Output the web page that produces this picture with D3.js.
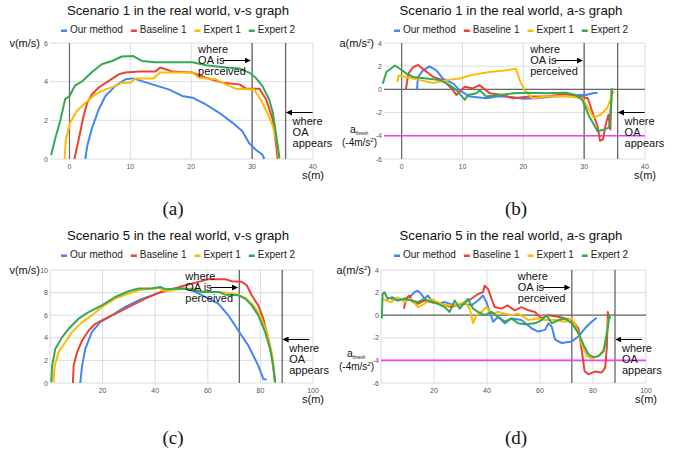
<!DOCTYPE html>
<html>
<head>
<meta charset="utf-8">
<script src="https://cdn.jsdelivr.net/npm/d3@7"></script>
<style>
  body { margin: 0; background: #fff; }
  svg { display: block; font-family: Arial, "Liberation Sans", sans-serif; }
</style>
</head>
<body>
<svg id="chart" width="682" height="452"></svg>
<script>
const seriesNames = ["Our method", "Baseline 1", "Expert 1", "Expert 2"];
const seriesColors = ["#4285f4", "#ea4335", "#fbbc04", "#34a853"];

// Scenario 1, v-s
const s1vOurs = [[2.6,0],[2.9,0.66],[3.7,1.6],[4.8,2.56],[5.9,3.26],[7.5,3.77],[9.2,4.12],[10.5,4.17],[11.9,4.03],[13.6,3.86],[16.3,3.6],[18.5,3.26],[20.2,3.17],[22.4,2.82],[24.6,2.39],[26.8,1.87],[28.4,1.44],[29.5,0.83],[30.6,0.48],[31.7,0.22],[32,0]];
const s1vBase = [[0.8,0],[1.5,1.0],[2.3,2.2],[2.9,2.9],[3.7,3.35],[4.8,3.7],[6.4,4.03],[8.1,4.38],[9.2,4.47],[11.4,4.52],[14.1,4.52],[14.9,4.73],[15.8,4.64],[16.9,4.52],[20.2,4.47],[22.4,4.2],[25.1,3.95],[27.9,3.86],[29,3.64],[31.2,3.64],[32.3,3.08],[33.4,2.04],[33.9,0.83],[34.2,0]];
const s1vExp1 = [[-0.8,0],[-0.6,1.0],[0.1,1.87],[1.2,2.48],[2.6,2.9],[4.2,3.34],[5.9,3.6],[7.5,3.77],[8.6,3.95],[10,3.95],[10.8,4.17],[13.8,4.17],[14.9,4.47],[20.2,4.47],[21.3,4.2],[24,4.12],[25.7,3.86],[27.3,3.64],[30.3,3.6],[31.4,3.08],[32.5,2.39],[33.4,1.7],[34.1,0.83],[34.4,0]];
const s1vExp2 = [[-3,0.2],[-2.4,1.0],[-1.5,2.0],[-0.7,3.1],[0,3.25],[0.9,3.8],[2,4.0],[3.7,4.5],[5.3,4.9],[7,5.07],[8.6,5.3],[10.4,5.33],[11.9,5.07],[14.1,5.0],[20.2,5.0],[22.4,4.85],[25.7,4.73],[27.9,4.68],[29.5,4.47],[30.6,4.2],[31.7,3.77],[32.8,3.08],[33.4,2.4],[33.9,1.35],[34.5,0.05]];

// Scenario 1, a-s
const s1aOurs = [[2.5,-0.06],[2.7,1.07],[3.5,1.64],[4.6,1.98],[5.7,1.64],[6.8,0.93],[8.5,0.5],[9.5,-0.06],[11.2,-0.62],[13.9,-0.76],[16,-0.6],[18.3,-0.68],[20,-0.8],[22.1,-0.76],[24,-0.65],[25.9,-0.56],[27.5,-0.6],[29.2,-0.48],[30.3,-0.48],[31.4,-0.34],[32.2,-0.28]];
const s1aBase = [[0.7,0],[1.1,1.36],[1.9,1.92],[2.7,2.1],[3.8,1.64],[5.2,1.07],[6.8,0.8],[8.2,0.08],[9,-0.48],[10.4,0.23],[11.7,0.08],[12.8,0.37],[14.5,-0.34],[16.6,-0.48],[18.3,-0.76],[21,-0.62],[23.7,-0.62],[27,-0.4],[29.2,-0.62],[30.6,-0.76],[31.4,-2.03],[32.2,-3.16],[32.6,-4.43],[33.1,-4.3],[33.6,-2.88],[34,-2.18],[34.3,-3.45],[34.5,-0.06]];
const s1aExp1 = [[-0.7,0.65],[-0.5,1.2],[0.8,1.07],[3,0.8],[5.2,0.56],[7.4,0.8],[9.5,0.93],[11.2,1.2],[12.8,1.36],[14.5,1.5],[17.2,1.64],[18.8,1.78],[19.4,0.8],[20.2,-0.06],[21.5,-0.76],[23.7,-0.62],[27,-0.56],[29.7,-0.76],[30.8,-1.75],[31.6,-2.46],[32.7,-2.18],[33.8,-1.6],[34.4,-0.76],[34.6,-0.2],[35,-0.28]];
const s1aExp2 = [[-3.1,0.5],[-2.5,1.5],[-1.1,2.06],[-0.3,1.78],[0.8,1.36],[1.9,1.07],[4.1,0.93],[6.3,0.8],[7.9,0.37],[9,-0.06],[10.4,-0.9],[10.9,-0.48],[12.3,-0.34],[12.8,-0.06],[13.9,-0.62],[16.1,-0.48],[18.3,-0.34],[21,-0.28],[23.7,-0.34],[27,-0.28],[28.6,-0.48],[29.7,-0.9],[30.8,-2.3],[32.2,-3.6],[33.3,-3.45],[34.1,-3.3],[34.4,-1.47],[34.6,0.1]];

// Scenario 5, v-s
const s5vOurs = [[11.5,0],[12.2,1.54],[13.4,3.02],[15.9,4.5],[19.1,5.39],[23.5,5.99],[28.6,6.73],[33.7,7.32],[38.7,7.76],[43.8,8.21],[47.6,8.36],[51.4,8.36],[55.2,8.06],[60.3,7.47],[64,7.02],[67.8,5.99],[71.6,4.65],[75.4,3.32],[79.2,1.54],[81.1,0.36],[82.4,0.3]];
const s5vBase = [[8.7,0],[9,1.54],[10.3,2.73],[12.2,3.76],[14.7,4.65],[17.2,5.24],[21,5.69],[26.1,6.28],[31.1,6.87],[36.2,7.47],[41.3,7.97],[46.3,8.27],[51.4,8.65],[56.5,8.95],[60.3,9.19],[66.6,9.19],[69.1,9.0],[72.9,8.95],[74.8,8.65],[76.7,7.76],[79.2,6.87],[81.1,5.69],[83,3.91],[84.3,2.43],[85.6,0.06]];
const s5vExp1 = [[1.3,0.06],[1.8,1.54],[3.3,2.73],[5.8,3.61],[8.4,4.5],[12.2,5.39],[15.9,5.99],[19.7,6.73],[24.8,7.47],[29.9,7.91],[33.7,8.21],[38.7,8.36],[41.3,8.41],[43.8,8.12],[48.9,8.3],[53.9,8.36],[57.7,8.12],[66.6,8.0],[71.6,7.82],[74.8,7.47],[77.3,6.87],[79.9,5.99],[82.4,4.5],[84.3,2.73],[85.6,0.06]];
const s5vExp2 = [[0.5,0.06],[0.8,1.54],[2,3.0],[4.6,4.06],[7.1,4.8],[10.9,5.69],[14.7,6.28],[19.7,6.87],[24.8,7.61],[29.9,8.12],[33.7,8.36],[38.7,8.36],[41.9,8.5],[43.8,8.3],[48.9,8.36],[53.9,8.27],[57.7,8.06],[64,8.06],[66.6,7.82],[71.6,7.76],[74.2,7.47],[76.7,6.87],[79.2,5.99],[81.8,4.5],[83.7,3.02],[84.9,1.54],[85.6,0.06]];

// Scenario 5, a-s
const s5aOurs = [[3.8,1.45],[6.3,1.3],[8.8,1.45],[11.4,1.74],[12.6,2.03],[13.9,2.17],[15.2,1.88],[16.4,1.45],[17.7,1.74],[19.6,1.16],[21.5,1.01],[24,1.16],[27.8,0.87],[31.6,1.01],[34.1,0.87],[36.6,1.3],[38.5,1.74],[39.8,1.16],[41,0.29],[42.3,-0.58],[44.2,-0.14],[46.7,-0.72],[49.2,-0.29],[53,-0.43],[56.8,-1.16],[59.3,-1.45],[61.9,-1.3],[63.1,-0.72],[64.4,-1.01],[65.7,-2.17],[68.2,-2.46],[72,-2.32],[74.5,-1.88],[77,-1.16],[79.5,-0.58],[81.4,-0.23]];
const s5aBase = [[8.6,0.58],[9.5,1.45],[10.7,1.74],[12,1.16],[13.9,1.01],[16.4,1.3],[18.9,1.16],[22.7,1.01],[26.5,0.72],[30.3,1.01],[34.1,1.45],[36.6,1.88],[38.5,2.03],[39.1,2.61],[40.4,2.32],[41.7,1.45],[42.9,0.72],[45.5,0.58],[47.7,0.87],[50.5,0.43],[53,0.72],[55.6,0.43],[58.1,0.29],[60.6,-0.29],[63.1,0],[66.9,-0.14],[69.4,-0.29],[72,-0.43],[74.5,-1.16],[75.8,-3.19],[76.8,-4.93],[78.3,-5.22],[80.8,-4.99],[83.3,-5.07],[84.6,-4.64],[85.2,-2.9],[85.6,0.29],[85.9,0]];
const s5aExp1 = [[0.6,1.45],[1.9,1.3],[3.8,1.16],[6.3,1.59],[8.8,1.16],[11.4,1.45],[13.9,0.72],[16.4,1.01],[18.9,1.45],[21.5,1.16],[24,0.87],[27.8,0.87],[31.6,1.16],[33.5,0.58],[34.7,-0.72],[36,0],[37.9,0.29],[39.8,0.72],[41.7,0.14],[44.2,0.29],[46.7,0.14],[49.2,0],[51.8,0.14],[55.6,-0.43],[59.3,-0.29],[61.9,-0.43],[65.7,-0.43],[69.4,-0.58],[72,-0.29],[73.9,-1.16],[75.8,-2.61],[77.7,-3.62],[79.5,-3.83],[82.1,-3.62],[84,-3.04],[85.2,-1.45],[85.9,-0.29]];
const s5aExp2 = [[0.3,-0.29],[0.6,1.88],[1.3,2.03],[2.5,1.45],[4.4,1.59],[6.3,1.3],[8.8,1.45],[11.4,1.3],[13.9,1.16],[16.4,1.45],[18.9,1.16],[21.5,1.01],[24,0.72],[25.9,0.29],[27.8,1.3],[29.7,0.58],[32.8,1.45],[34.7,0.58],[36.6,0.29],[39.1,0],[41.7,0.29],[44.2,-0.14],[46.7,-0.58],[49.2,-0.29],[51.8,-0.72],[54.3,-0.81],[58.1,-0.72],[60.6,-0.43],[62.5,0],[64.4,-0.72],[66.9,-0.43],[69.4,-0.29],[72,-0.72],[74.5,-1.59],[76.4,-2.61],[78.3,-3.48],[80.2,-3.71],[82.1,-3.62],[84,-3.19],[85.2,-1.74],[85.9,-0.58],[86.1,0],[86.5,-0.29]];

const s1XTicks = [0, 10, 20, 30, 40];
const s5XTicks = [20, 40, 60, 80, 100];
const vTicks1 = [0, 2, 4, 6];
const vTicks5 = [0, 2, 4, 6, 8, 10];
const aTicks = [-6, -4, -2, 0, 2, 4];
const aThresh = -4;
const perceivedS1 = 30, appearsS1 = 35.5;
const perceivedS5 = 72, appearsS5 = 88.3;

const svg = d3.select("#chart");

svg.append("defs").append("marker")
    .attr("id", "arrow")
    .attr("viewBox", "0 0 10 10")
    .attr("refX", 9).attr("refY", 5)
    .attr("markerWidth", 6).attr("markerHeight", 6)
    .attr("markerUnits", "userSpaceOnUse")
    .attr("orient", "auto")
    .append("path").attr("d", "M0,0L10,5L0,10z").attr("fill", "#000");

function drawPanel(p) {
    const g = svg.append("g");
    const x = d3.scaleLinear().domain(p.xDomain).range([p.left, p.right]);
    const y = d3.scaleLinear().domain(p.yDomain).range([p.bottom, p.top]);

    // grid
    g.selectAll(".vg").data(p.xGrid).join("line")
        .attr("x1", d => x(d)).attr("x2", d => x(d))
        .attr("y1", p.top).attr("y2", p.bottom)
        .attr("stroke", "#dcdcdc").attr("stroke-width", 1);
    g.selectAll(".hg").data(p.yTicks).join("line")
        .attr("x1", p.left).attr("x2", p.right)
        .attr("y1", d => y(d)).attr("y2", d => y(d))
        .attr("stroke", "#dcdcdc").attr("stroke-width", 1);

    // tick labels
    g.selectAll(".xt").data(p.xTicks).join("text")
        .attr("x", d => x(d)).attr("y", p.bottom + 9.5)
        .attr("text-anchor", "middle").attr("font-size", 7).attr("fill", "#555")
        .text(d => d);
    g.selectAll(".yt").data(p.yTicks).join("text")
        .attr("x", p.left - 2).attr("y", d => y(d) + 2.5)
        .attr("text-anchor", "end").attr("font-size", 7).attr("fill", "#555")
        .text(d => d);

    // dark baselines
    if (p.zeroX) {
        g.append("line").attr("x1", x(0)).attr("x2", x(0))
            .attr("y1", p.top).attr("y2", p.bottom)
            .attr("stroke", "#666").attr("stroke-width", 1.2);
    }
    if (p.zeroY) {
        g.append("line").attr("x1", p.left).attr("x2", p.right)
            .attr("y1", y(0)).attr("y2", y(0))
            .attr("stroke", "#666").attr("stroke-width", 1.2);
    }

    // event lines
    [p.perceived, p.appears].forEach(s => {
        g.append("line").attr("x1", x(s)).attr("x2", x(s))
            .attr("y1", p.top).attr("y2", p.bottom)
            .attr("stroke", "#666").attr("stroke-width", 1.3);
    });

    if (p.thresh !== undefined) {
        g.append("line").attr("x1", p.left).attr("x2", p.right)
            .attr("y1", y(p.thresh)).attr("y2", y(p.thresh))
            .attr("stroke", "#f23ef2").attr("stroke-width", 1.6);
        const t = g.append("text").attr("x", p.left - 34).attr("y", y(p.thresh) - 3)
            .attr("font-size", 10.5).attr("fill", "#111");
        t.append("tspan").text("a");
        t.append("tspan").attr("font-size", 4.5).attr("dy", 2).text("thresh");
        const t2 = g.append("text").attr("x", p.left - 42).attr("y", y(p.thresh) + 10)
            .attr("font-size", 10).attr("fill", "#111");
        t2.append("tspan").text("(-4m/s");
        t2.append("tspan").attr("font-size", 6).attr("dy", -4).text("2");
        t2.append("tspan").attr("dy", 4).text(")");
    }

    // data lines
    const line = d3.line().x(d => x(d[0])).y(d => y(d[1]));
    p.series.forEach((s, i) => {
        g.append("path").datum(s)
            .attr("fill", "none").attr("stroke", seriesColors[i])
            .attr("stroke-width", 2).attr("stroke-linejoin", "round")
            .attr("d", line);
    });

    // annotations
    const px = x(p.perceived);
    const ann = g.append("text").attr("font-size", 11).attr("fill", "#111");
    ["where", "OA is", "perceived"].forEach((s, i) => {
        ann.append("tspan").attr("x", px - 54).attr("y", p.top + 9.5 + i * 11).text(s);
    });
    g.append("line").attr("x1", px - 29).attr("x2", px - 2)
        .attr("y1", p.top + 17.5).attr("y2", p.top + 17.5)
        .attr("stroke", "#000").attr("stroke-width", 1).attr("marker-end", "url(#arrow)");

    const ax = x(p.appears);
    const ann2 = g.append("text").attr("font-size", 11).attr("fill", "#111");
    ["where", "OA", "appears"].forEach((s, i) => {
        ann2.append("tspan").attr("x", ax + 7).attr("y", p.top + 82 + i * 11).text(s);
    });
    g.append("line").attr("x1", ax + 27).attr("x2", ax + 1)
        .attr("y1", p.top + 69.5).attr("y2", p.top + 69.5)
        .attr("stroke", "#000").attr("stroke-width", 1).attr("marker-end", "url(#arrow)");

    // axis labels
    const yl = g.append("text").attr("x", p.left - 10).attr("y", p.top + 4)
        .attr("text-anchor", "end").attr("font-size", 11).attr("fill", "#111");
    if (p.yLabel === "v") {
        yl.text("v(m/s)");
    } else {
        yl.append("tspan").text("a(m/s");
        yl.append("tspan").attr("font-size", 6).attr("dy", -4).text("2");
        yl.append("tspan").attr("dy", 4).text(")");
    }
    g.append("text").attr("x", p.right).attr("y", p.bottom + 20)
        .attr("text-anchor", "middle").attr("font-size", 11).attr("fill", "#111")
        .text("s(m)");

    // title
    g.append("text").attr("x", p.cx).attr("y", p.titleY)
        .attr("text-anchor", "middle").attr("font-size", 13.2).attr("fill", "#111")
        .text(p.title);

    // legend
    const lg = g.append("g");
    let cur = 0;
    seriesNames.forEach((n, i) => {
        lg.append("rect").attr("x", cur).attr("y", -3.5).attr("width", 6).attr("height", 2.5)
            .attr("fill", seriesColors[i]);
        const t = lg.append("text").attr("x", cur + 9).attr("y", 0)
            .attr("font-size", 10).attr("fill", "#222").text(n);
        cur += 9 + t.node().getComputedTextLength() + 8;
    });
    cur -= 8;
    lg.attr("transform", `translate(${p.cx - cur / 2},${p.titleY + 18})`);

    // caption
    svg.append("text").attr("x", p.capX).attr("y", p.capY)
        .attr("text-anchor", "middle")
        .attr("font-family", "'Liberation Serif', 'Times New Roman', serif")
        .attr("font-size", 19).attr("fill", "#111").text(p.caption);
}

drawPanel({
    title: "Scenario 1 in the real world, v-s graph", caption: "(a)",
    left: 50, right: 313, top: 43, bottom: 159, cx: 178, titleY: 15, capX: 173, capY: 215,
    xDomain: [-3.2, 40], yDomain: [0, 6], xTicks: s1XTicks, xGrid: s1XTicks, yTicks: vTicks1,
    zeroX: true, zeroY: false, yLabel: "v",
    perceived: perceivedS1, appears: appearsS1,
    series: [s1vOurs, s1vBase, s1vExp1, s1vExp2]
});
drawPanel({
    title: "Scenario 1 in the real world, a-s graph", caption: "(b)",
    left: 384, right: 645, top: 43, bottom: 159, cx: 511, titleY: 15, capX: 516, capY: 215,
    xDomain: [-2.9, 40], yDomain: [-6, 4], xTicks: s1XTicks, xGrid: s1XTicks, yTicks: aTicks,
    zeroX: true, zeroY: true, yLabel: "a", thresh: aThresh,
    perceived: perceivedS1, appears: appearsS1,
    series: [s1aOurs, s1aBase, s1aExp1, s1aExp2]
});
drawPanel({
    title: "Scenario 5 in the real world, v-s graph", caption: "(c)",
    left: 50, right: 313, top: 270, bottom: 383, cx: 178, titleY: 240, capX: 173, capY: 444,
    xDomain: [0, 100], yDomain: [0, 10], xTicks: s5XTicks, xGrid: [0].concat(s5XTicks), yTicks: vTicks5,
    zeroX: false, zeroY: false, yLabel: "v",
    perceived: perceivedS5, appears: appearsS5,
    series: [s5vOurs, s5vBase, s5vExp1, s5vExp2]
});
drawPanel({
    title: "Scenario 5 in the real world, a-s graph", caption: "(d)",
    left: 381, right: 646, top: 270, bottom: 383, cx: 511, titleY: 240, capX: 516, capY: 444,
    xDomain: [0, 100], yDomain: [-6, 4], xTicks: s5XTicks, xGrid: [0].concat(s5XTicks), yTicks: aTicks,
    zeroX: false, zeroY: true, yLabel: "a", thresh: aThresh,
    perceived: perceivedS5, appears: appearsS5,
    series: [s5aOurs, s5aBase, s5aExp1, s5aExp2]
});
</script>
</body>
</html>
